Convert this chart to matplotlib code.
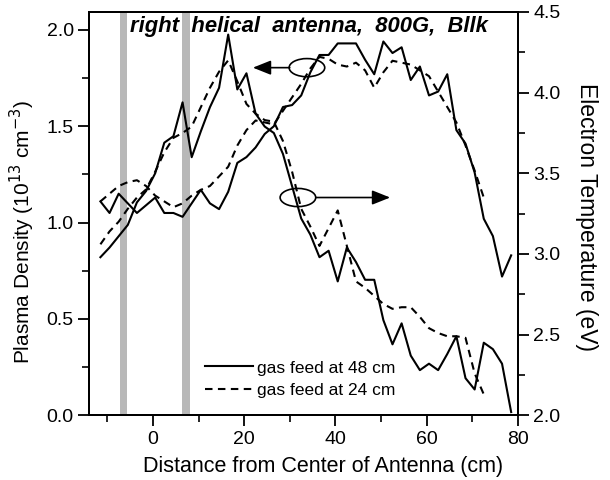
import matplotlib
matplotlib.use("Agg")
import matplotlib.pyplot as plt
from matplotlib.patches import Ellipse
from matplotlib.ticker import MultipleLocator, FormatStrFormatter

plt.rcParams['font.family'] = ['Liberation Sans', 'DejaVu Sans']

# Probe positions along the antenna axis (cm)
position_cm = [-11.5, -9.5, -7.5, -5.5, -3.5, -1.5, 0.5, 2.5, 4.5, 6.5,
               8.5, 10.5, 12.5, 14.5, 16.5, 18.5, 20.5, 22.5, 24.5, 26.5,
               28.5, 30.5, 32.5, 34.5, 36.5, 38.5, 40.5, 42.5, 44.5, 46.5,
               48.5, 50.5, 52.5, 54.5, 56.5, 58.5, 60.5, 62.5, 64.5, 66.5,
               68.5, 70.5, 72.5, 74.5, 76.5, 78.5]
position_cm_24 = position_cm[:43]

# Plasma density (1e13 cm^-3)
density_48 = [1.11, 1.05, 1.15, 1.10, 1.05, 1.09, 1.13, 1.05, 1.05, 1.03,
              1.10, 1.17, 1.10, 1.07, 1.16, 1.31, 1.34, 1.39, 1.46, 1.50,
              1.60, 1.61, 1.66, 1.78, 1.87, 1.87, 1.93, 1.93, 1.93, 1.845,
              1.77, 1.94, 1.88, 1.91, 1.74, 1.81, 1.66, 1.68, 1.77, 1.48,
              1.41, 1.26, 1.02, 0.93, 0.72, 0.83]
density_24 = [1.11, 1.15, 1.19, 1.21, 1.22, 1.19, 1.14, 1.11, 1.08, 1.10,
              1.14, 1.17, 1.19, 1.24, 1.29, 1.40, 1.48, 1.53, 1.52, 1.51,
              1.58, 1.65, 1.72, 1.80, 1.86, 1.85, 1.82, 1.81, 1.83, 1.79,
              1.70, 1.78, 1.84, 1.83, 1.82, 1.79, 1.76, 1.68, 1.60, 1.52,
              1.40, 1.27, 1.13]

# Electron temperature (eV)
temperature_48 = [2.98, 3.04, 3.11, 3.18, 3.32, 3.39, 3.50, 3.69, 3.73, 3.94,
                  3.60, 3.76, 3.91, 4.03, 4.36, 4.02, 4.12, 3.87, 3.79, 3.75,
                  3.62, 3.42, 3.22, 3.12, 2.98, 3.02, 2.83, 3.04, 2.95, 2.84,
                  2.84, 2.59, 2.44, 2.57, 2.37, 2.28, 2.32, 2.28, 2.38, 2.49,
                  2.23, 2.16, 2.45, 2.41, 2.32, 2.02]
temperature_24 = [3.06, 3.14, 3.20, 3.28, 3.35, 3.40, 3.51, 3.63, 3.72, 3.75,
                  3.79, 3.91, 4.03, 4.13, 4.20, 4.07, 3.93, 3.87, 3.83, 3.82,
                  3.70, 3.51, 3.28, 3.17, 3.05, 3.16, 3.27, 3.05, 2.83, 2.79,
                  2.74, 2.69, 2.66, 2.67, 2.67, 2.61, 2.54, 2.51, 2.49, 2.49,
                  2.48, 2.26, 2.13]

# Antenna end rings (cm)
antenna_rings = [(-7.3, -5.6), (6.4, 8.1)]

series_labels = ["gas feed at 48 cm", "gas feed at 24 cm"]

fig = plt.figure(figsize=(6.1, 4.8), dpi=100)
ax = fig.add_axes([89 / 610, 64.7 / 480, 429 / 610, 403.3 / 480])
ax2 = ax.twinx()

for lo, hi in antenna_rings:
    ax.axvspan(lo, hi, color='#b8b8b8', lw=0, zorder=0)

dash = (0, (3.6, 2.6))
l1, = ax.plot(position_cm, density_48, color='black', lw=1.5, zorder=3)
l2, = ax.plot(position_cm_24, density_24, color='black', lw=1.5,
              linestyle=dash, zorder=3)
ax2.plot(position_cm, temperature_48, color='black', lw=1.5, zorder=3)
ax2.plot(position_cm_24, temperature_24, color='black', lw=1.5,
         linestyle=dash, zorder=3)

ax.set_xlim(-14, 80)
ax.set_ylim(0, 2.093)
ax2.set_ylim(2.0, 4.5)

ax.xaxis.set_major_locator(MultipleLocator(20))
ax.xaxis.set_minor_locator(MultipleLocator(10))
ax.yaxis.set_major_locator(MultipleLocator(0.5))
ax.yaxis.set_minor_locator(MultipleLocator(0.25))
ax.yaxis.set_major_formatter(FormatStrFormatter('%.1f'))
ax2.yaxis.set_major_locator(MultipleLocator(0.5))
ax2.yaxis.set_minor_locator(MultipleLocator(0.25))
ax2.yaxis.set_major_formatter(FormatStrFormatter('%.1f'))

for a in (ax, ax2):
    for s in a.spines.values():
        s.set_linewidth(1.4)
    a.tick_params(which='major', direction='out', length=8, width=1.3,
                  labelsize=14, pad=3)
    a.tick_params(which='minor', direction='out', length=5, width=1.2)
ax.tick_params(axis='y', which='both', right=False)
ax2.tick_params(axis='y', which='both', left=False)

fig.text(0.036, 0.517, "Plasma Density (10$^{13}$ cm$^{-3}$)",
         rotation=90, ha='center', va='center', fontsize=15)
fig.text(0.962, 0.548, "Electron Temperature (eV)",
         rotation=270, ha='center', va='center', fontsize=16.5)
fig.text(0.53, 0.029, "Distance from Center of Antenna (cm)",
         ha='center', va='center', fontsize=15.5)

ax.text(0.096, 0.951, "right  helical  antenna,  800G,  Bllk",
        transform=ax.transAxes, ha='left', va='baseline',
        fontsize=15.8, fontweight='bold', fontstyle='italic', zorder=5)

# Ellipses with arrows marking which axis each pair of curves uses
for (cx, cy), (x0, x1) in [((0.508, 0.862), (0.468, 0.382)),
                           ((0.487, 0.540), (0.530, 0.702))]:
    ax2.add_patch(Ellipse((cx, cy), 0.083, 0.045, transform=ax.transAxes,
                          fill=False, lw=1.2, ec='black', zorder=6))
    ax2.annotate('', xy=(x1, cy), xytext=(x0, cy),
                 xycoords=ax.transAxes, textcoords=ax.transAxes,
                 arrowprops=dict(arrowstyle='-|>,head_length=0.55,head_width=0.22',
                                 mutation_scale=20, lw=1.2, color='black',
                                 shrinkA=0, shrinkB=0), zorder=6)

ax2.legend([l1, l2], series_labels, loc='center left',
           bbox_to_anchor=(0.27, 0.089), frameon=False, fontsize=12.5,
           handlelength=2.8, handletextpad=0.2, borderpad=0,
           borderaxespad=0, labelspacing=0.45)

fig.savefig("out.png", dpi=100)
